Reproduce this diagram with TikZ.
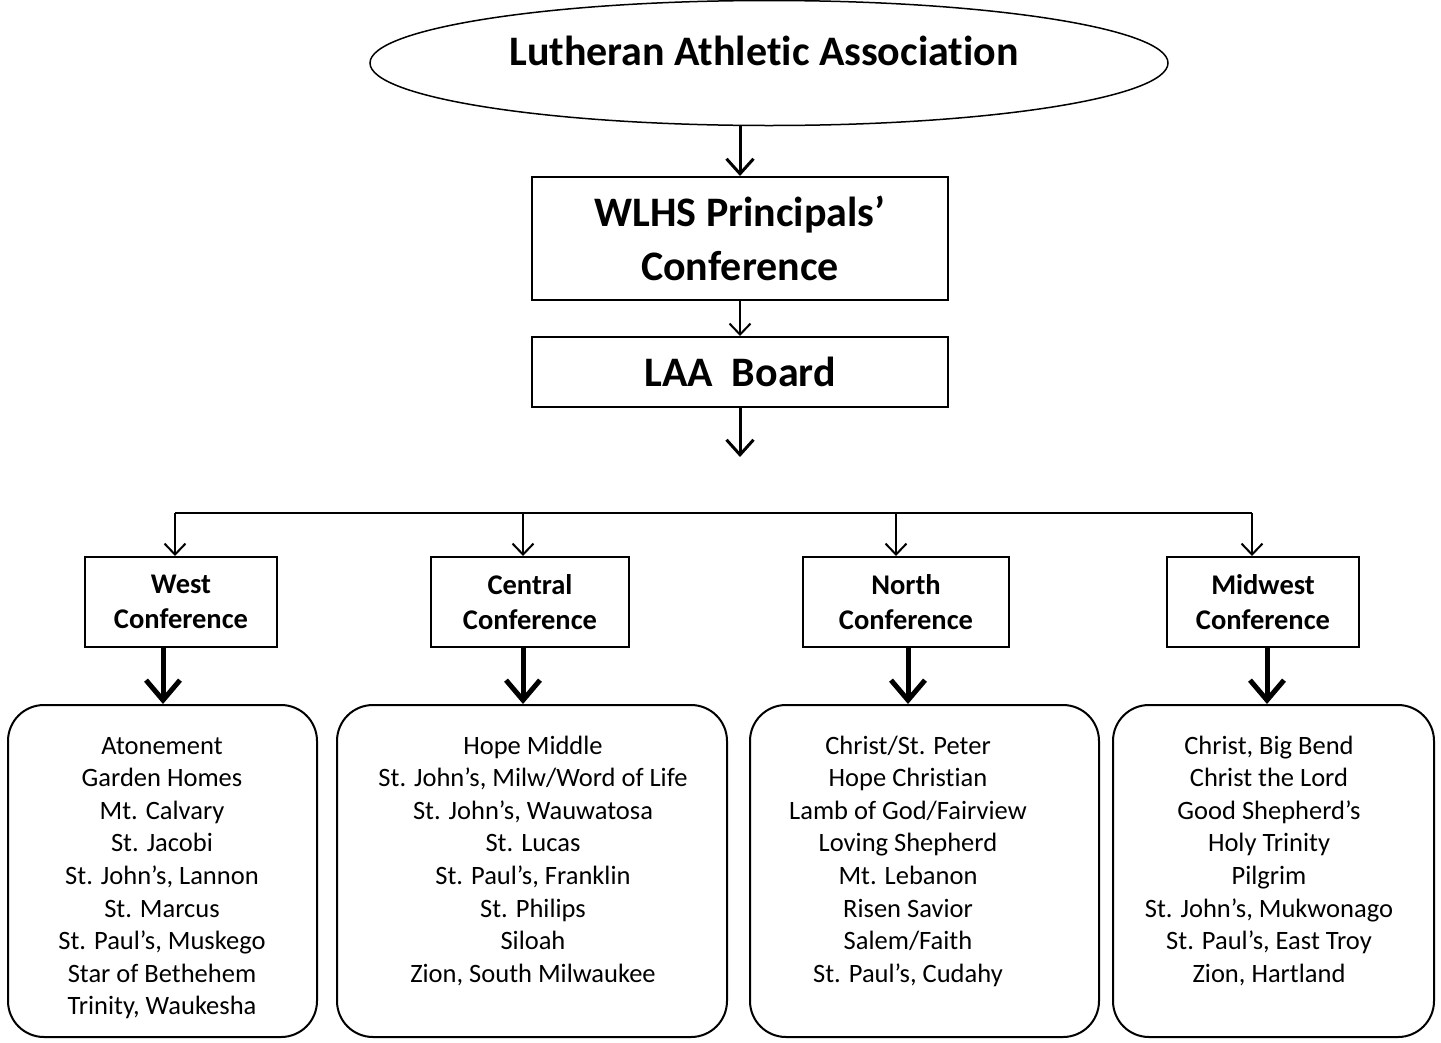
\documentclass[tikz,border=0pt]{standalone}
\usepackage{fontspec}
\setmainfont{Carlito}[Ligatures={TeX,NoCommon}]
\usetikzlibrary{shapes.geometric,arrows.meta}

\begin{document}
\begin{tikzpicture}[x=1pt, y=-1pt,
    box/.style={draw, line width=2pt, align=center, inner sep=0pt},
    bigfont/.style={font=\bfseries\fontsize{42}{54}\selectfont},
    confbox/.style={box, minimum height=90pt, font=\bfseries\fontsize{28.5}{35}\selectfont},
    listbox/.style={draw, line width=2pt, rounded corners=36pt, minimum width=#1, minimum height=332pt},
    schools/.style={align=center, inner sep=0pt, anchor=north, font=\fontsize{26.5}{32.6}\selectfont},
    smallarrow/.style={-{Straight Barb[length=11pt,width=21pt]}, line width=2pt},
    midarrow/.style={-{Straight Barb[length=15pt,width=27pt]}, line width=3pt},
    bigarrow/.style={-{Straight Barb[length=20pt,width=34pt]}, line width=5pt}]
    \useasboundingbox (0,0) rectangle (1441,1042);

    \node (LAA) [ellipse, draw, line width=1.5pt, minimum width=798pt, minimum height=125pt, inner sep=0pt] at (769,63) {};
    \node (Title) [bigfont] at (764,51) {Lutheran Athletic Association};
    \node (WLHS) [box, bigfont, minimum width=416pt, minimum height=123pt] at (740,238.5) {WLHS Principals’\\Conference};
    \node (Board) [box, bigfont, minimum width=416pt, minimum height=70pt] at (740,372) {LAA\ \ Board};
    \coordinate (Split) at (740,457);

    \draw[midarrow] (WLHS.north |- LAA.south) -- (WLHS.north);
    \draw[smallarrow] (WLHS) -- (Board);
    \draw[midarrow] (Board) -- (Split);

    % the four conferences
    \node (West) [confbox, minimum width=192pt] at (181,602) {West\\Conference};
    \node (Central) [confbox, minimum width=198pt] at (530,602) {Central\\Conference};
    \node (North) [confbox, minimum width=206pt] at (906,602) {North\\Conference};
    \node (Midwest) [confbox, minimum width=192pt] at (1263,602) {Midwest\\Conference};

    \coordinate (WestIn) at (175,513);
    \coordinate (CentralIn) at (523,513);
    \coordinate (NorthIn) at (896,513);
    \coordinate (MidwestIn) at (1252,513);
    \draw[line width=2pt] (WestIn) -- (MidwestIn);
    \foreach \c in {West, Central, North, Midwest}
        \draw[smallarrow] (\c In) -- (\c In |- \c.north);

    % member schools
    \node (WestList) [listbox=309pt] at (162.5,871) {};
    \node (CentralList) [listbox=390pt] at (532,871) {};
    \node (NorthList) [listbox=349pt] at (924.5,871) {};
    \node (MidwestList) [listbox=321pt] at (1273.5,871) {};

    \node (WestNames) [schools] at (162,731) {\strut Atonement\\Garden Homes\\Mt. Calvary\\St. Jacobi\\St. John’s, Lannon\\St. Marcus\\St. Paul’s, Muskego\\Star of Bethehem\\Trinity, Waukesha};
    \node (CentralNames) [schools] at (533,731) {\strut Hope Middle\\St. John’s, Milw/Word of Life\\St. John’s, Wauwatosa\\St. Lucas\\St. Paul’s, Franklin\\St. Philips\\Siloah\\Zion, South Milwaukee};
    \node (NorthNames) [schools] at (908,731) {\strut Christ/St. Peter\\Hope Christian\\Lamb of God/Fairview\\Loving Shepherd\\Mt. Lebanon\\Risen Savior\\Salem/Faith\\St. Paul’s, Cudahy};
    \node (MidwestNames) [schools] at (1269,731) {\strut Christ, Big Bend\\Christ the Lord\\Good Shepherd’s\\Holy Trinity\\Pilgrim\\St. John’s, Mukwonago\\St. Paul’s, East Troy\\Zion, Hartland};

    \draw[bigarrow] (163,0 |- West.south) -- (163,0 |- WestList.north);
    \draw[bigarrow] (523,0 |- Central.south) -- (523,0 |- CentralList.north);
    \draw[bigarrow] (908,0 |- North.south) -- (908,0 |- NorthList.north);
    \draw[bigarrow] (1267,0 |- Midwest.south) -- (1267,0 |- MidwestList.north);
\end{tikzpicture}
\end{document}
